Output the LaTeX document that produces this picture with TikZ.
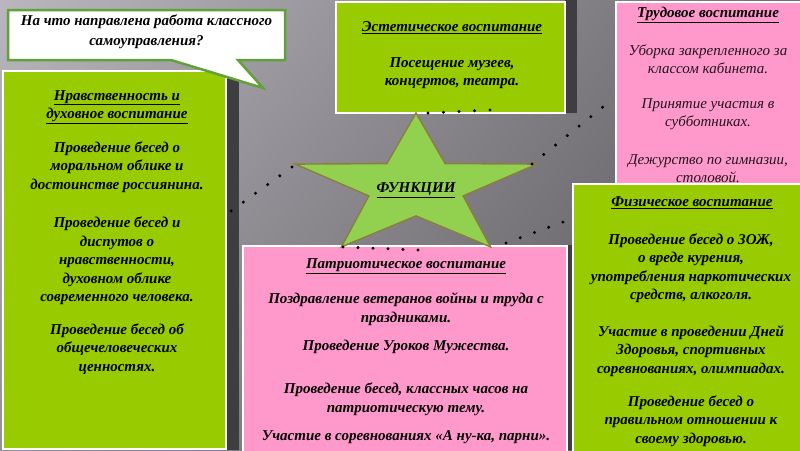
\documentclass[tikz,border=0pt]{standalone}
\usepackage{fontspec}
\setmainfont{Liberation Serif}
\usetikzlibrary{shadings}
\definecolor{boxgreen}{HTML}{99CC00}
\definecolor{boxpink}{HTML}{FF99CC}
\definecolor{starfill}{HTML}{92D050}
\definecolor{starline}{HTML}{8C7F3C}
\definecolor{callline}{HTML}{62A03A}
\definecolor{shadowc}{HTML}{3E3D41}
\definecolor{bgA}{HTML}{B9B6BE}
\definecolor{bgB}{HTML}{6E6C71}
\definecolor{bgC}{HTML}{929195}
\definecolor{bgD}{HTML}{4F4E52}
\definecolor{darktxt}{HTML}{24141E}
\tikzset{
  gbox/.style={fill=boxgreen, draw=white, line width=1.5pt},
  pbox/.style={fill=boxpink, draw=white, line width=1.5pt},
  txt/.style={font=\fontsize{15}{18.5}\selectfont\bfseries\itshape, align=center, inner sep=0pt, text=black},
  ltxt/.style={font=\fontsize{15}{18}\selectfont\itshape, align=center, inner sep=0pt, text=darktxt},
  dotline/.style={draw=black, line width=3.3pt, line cap=round, dash pattern=on 0pt off 15pt},
  shadowstrip/.style={fill=shadowc}
}
\begin{document}
\begin{tikzpicture}[x=1pt,y=-1pt]
\useasboundingbox (0,0) rectangle (800,450);
% background
\shade[upper left=bgA, upper right=bgB, lower left=bgC, lower right=bgD] (0,0) rectangle (800,450);
% shadows
\fill[shadowstrip] (226,70) rectangle (239,450);
\fill[shadowstrip] (565,0) rectangle (577,113);
\fill[shadowstrip] (565,245) rectangle (572,450);

% boxes
\node[gbox, anchor=north west, minimum width=223pt, minimum height=378pt] (L) at (2,70) {};
\node[gbox, anchor=north west, minimum width=229pt, minimum height=111pt] (T) at (335,1) {};
\node[pbox, anchor=north west, minimum width=190pt, minimum height=182pt] (TR) at (615,1) {};
\node[gbox, anchor=north west, minimum width=230pt, minimum height=270pt] (R) at (572,183) {};
\node[pbox, anchor=north west, minimum width=324pt, minimum height=210pt] (B) at (242,245) {};

% callout
\draw[fill=white, draw=callline, line width=2.5pt, line join=miter]
  (8,10) -- (285,10) -- (285,60) -- (238,60) -- (263,88) -- (171,60) -- (8,60) -- cycle;
\node[txt, font=\fontsize{15}{20}\selectfont\bfseries\itshape] (Q) at (146.5,31.5) {На что направлена работа классного\\самоуправления?};

% star
\draw[fill=starfill, draw=starline, line width=1.4pt, line join=miter]
  (416,113) -- (386.9,163.6) -- (295.2,164.1) -- (368.9,195.9) -- (341.4,246.9)
  -- (416,215.9) -- (490.6,246.9) -- (463.1,195.9) -- (536.8,164.1) -- (445.1,163.6) -- cycle;
\node[txt] (F) at (416,190) {\underline{ФУНКЦИИ}};

% dotted connectors
\coordinate (st) at (428,113);   \coordinate (tb) at (490,110);
\coordinate (sl) at (292,167);   \coordinate (lb) at (231,211);
\coordinate (sr) at (532,164);   \coordinate (trb) at (614,98);
\coordinate (sbl) at (343,247);  \coordinate (bb) at (418,250);
\coordinate (sbr) at (506,243);  \coordinate (rb) at (563,222);
\draw[dotline, dash pattern=on 0pt off 15.5pt] (st) -- (tb);
\draw[dotline] (sl) -- (lb);
\draw[dotline, dash pattern=on 0pt off 15.1pt] (sr) -- (trb);
\draw[dotline] (sbl) -- (bb);
\draw[dotline, dash pattern=on 0pt off 15.15pt] (sbr) -- (rb);

% left box text
\node[txt] (L0) at (117,107) {\underline{Нравственность и}\\\underline{духовное воспитание}};
\node[txt] (L1) at (117,167) {Проведение бесед о\\моральном облике и\\достоинстве россиянина.};
\node[txt] (L2) at (117,261) {Проведение бесед и\\диспутов о\\нравственности,\\духовном облике\\современного человека.};
\node[txt] (L3) at (117,349) {Проведение бесед об\\общечеловеческих\\ценностях.};

% top box text
\node[txt] (T0) at (452,28) {\underline{Эстетическое воспитание}};
\node[txt] (T1) at (452,73) {Посещение музеев,\\концертов, театра.};

% top right text
\node[txt] (TR0) at (708,15) {\underline{Трудовое воспитание}};
\node[ltxt] (TR1) at (708,59) {Уборка закрепленного за\\классом кабинета.};
\node[ltxt] (TR2) at (708,114) {Принятие участия в\\субботниках.};
\node[ltxt] (TR3) at (708,168.5) {Дежурство по гимназии,\\столовой.};

% right box text
\node[txt] (R0) at (692,203) {\underline{Физическое воспитание}};
\node[txt] (R1) at (691,268) {Проведение бесед о ЗОЖ,\\о вреде курения,\\употребления наркотических\\средств, алкоголя.};
\node[txt] (R2) at (691,351) {Участие в проведении Дней\\Здоровья, спортивных\\соревнованиях, олимпиадах.};
\node[txt] (R3) at (691,421) {Проведение бесед о\\правильном отношении к\\своему здоровью.};

% bottom box text
\node[txt] (B0) at (406,266) {\underline{Патриотическое воспитание}};
\node[txt] (B1) at (406,309) {Поздравление ветеранов войны и труда с\\праздниками.};
\node[txt] (B2) at (406,347) {Проведение Уроков Мужества.};
\node[txt] (B3) at (406,399) {Проведение бесед, классных часов на\\патриотическую тему.};
\node[txt] (B4) at (406,437) {Участие в соревнованиях «А ну-ка, парни».};
\end{tikzpicture}
\end{document}
